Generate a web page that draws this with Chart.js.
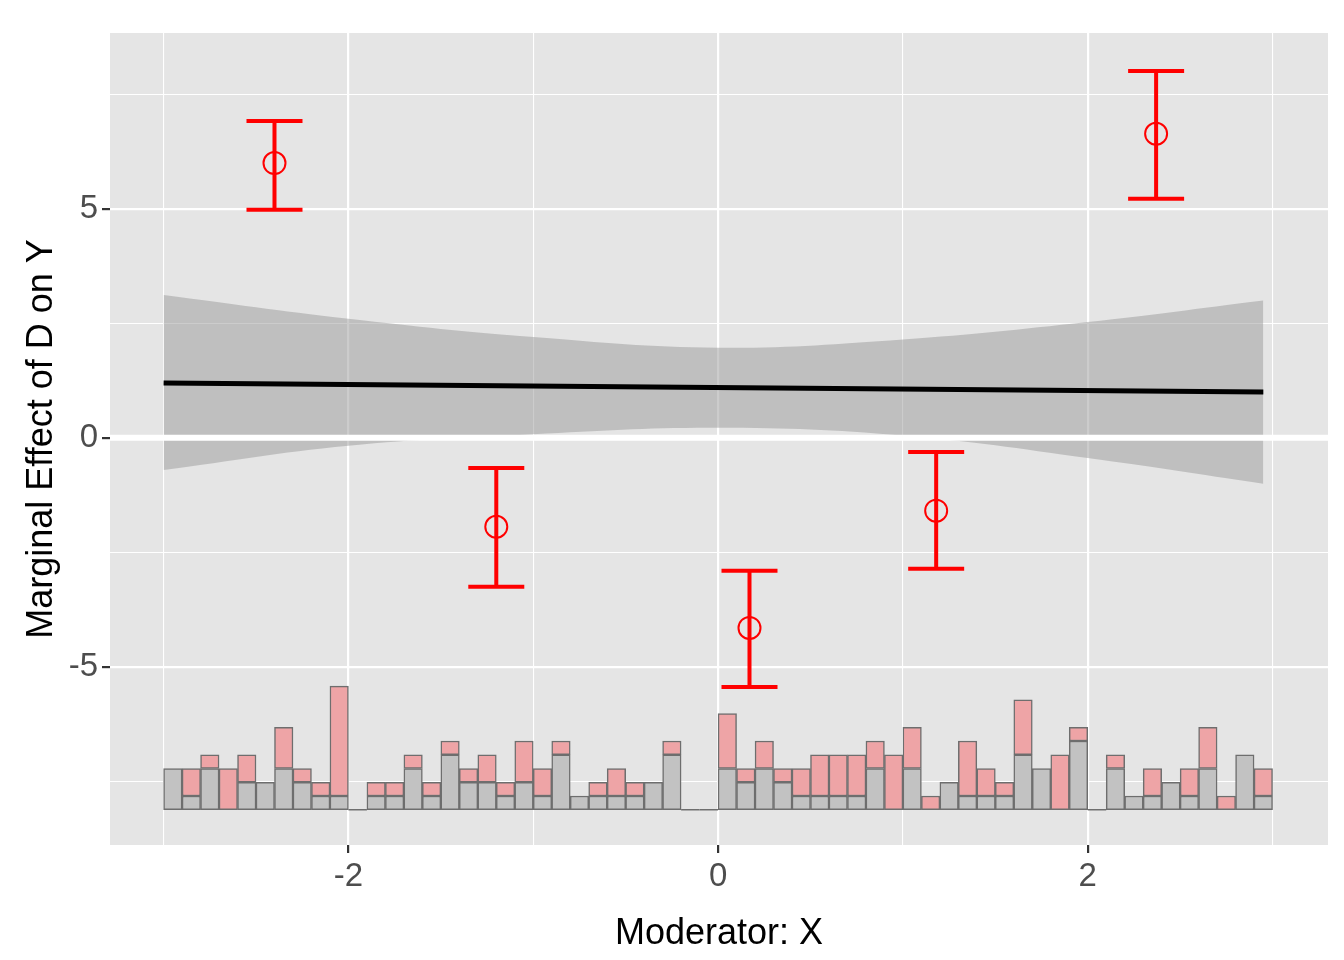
<!DOCTYPE html>
<html>
<head>
<meta charset="utf-8">
<script src="https://cdn.jsdelivr.net/npm/chart.js@4.4.1/dist/chart.umd.min.js"></script>
<style>
  body { margin: 0; background: #fff; }
  #wrap { width: 1344px; height: 960px; }
</style>
</head>
<body>
<div id="wrap"><canvas id="c" width="1344" height="960"></canvas></div>
<script>
// ---- data ----
const lineX = [-3, 2.95];
const lineY = [1.2, 1.0];

const bandX     = [-3, -2, -1, 0, 1, 2, 2.95];
const bandUpper = [3.12, 2.6, 2.2, 1.97, 2.15, 2.53, 3.0];
const bandLower = [-0.7, -0.17, 0.08, 0.22, 0.05, -0.44, -1.0];

const binX  = [-2.4, -1.2, 0.17, 1.18, 2.37];
const binY  = [6.0, -1.94, -4.15, -1.59, 6.64];
const binLo = [4.98, -3.25, -5.44, -2.86, 5.22];
const binHi = [6.92, -0.66, -2.9, -0.31, 8.01];

// histogram: 60 bins of width 0.1 from -3 to 3; counts per bin
const histStart = -3, histWidth = 0.1;
const grayCounts = [3,1,3,0,2,2,3,2,1,1, 0,1,1,3,1,4,2,2,1,2, 1,4,1,1,1,1,2,4,0,0,
                    3,2,3,2,1,1,1,1,3,0, 3,0,2,1,1,1,4,3,0,5, 0,3,1,1,2,1,3,0,4,1];
const pinkCounts = [0,2,1,3,2,0,3,1,1,8, 0,1,1,1,1,1,1,2,1,3, 2,1,0,1,2,1,0,1,0,0,
                    4,1,2,1,2,3,3,3,2,4, 3,1,0,4,2,1,4,0,4,1, 0,1,0,2,0,2,3,1,0,2];
const histBase = -8.12, histUnit = 0.3;

const xTicks = [-3, -2, -1, 0, 1, 2, 3];
const xLabels = [-2, 0, 2];
const yTicks = [-7.5, -5, -2.5, 0, 2.5, 5, 7.5];
const yLabels = [-5, 0, 5];

// ---- build datasets ----
const centers = grayCounts.map((_, i) => +(histStart + histWidth * (i + 0.5)).toFixed(3));
const grayBars = centers.map((x, i) => ({ x, y: [histBase, histBase + grayCounts[i] * histUnit] }));
const pinkBars = centers.map((x, i) => ({
  x, y: [histBase + grayCounts[i] * histUnit, histBase + (grayCounts[i] + pinkCounts[i]) * histUnit]
})).filter((d, i) => pinkCounts[i] > 0);

const pts = (xs, ys) => xs.map((x, i) => ({ x, y: ys[i] }));

// zero line, empty-bin baselines and error bars, drawn with the chart's own scales
const extras = {
  id: 'extras',
  afterDatasetsDraw(chart) {
    const { ctx, scales: { x, y }, chartArea: a } = chart;
    ctx.save();
    ctx.strokeStyle = '#ffffff';
    ctx.lineWidth = 6;
    ctx.beginPath();
    ctx.moveTo(a.left, y.getPixelForValue(0));
    ctx.lineTo(a.right, y.getPixelForValue(0));
    ctx.stroke();

    // baseline under empty bins
    ctx.strokeStyle = '#6e6e6e';
    ctx.lineWidth = 1.5;
    const by = y.getPixelForValue(histBase);
    grayCounts.forEach((g, i) => {
      if (g + pinkCounts[i] > 0) return;
      ctx.beginPath();
      ctx.moveTo(x.getPixelForValue(histStart + histWidth * i), by);
      ctx.lineTo(x.getPixelForValue(histStart + histWidth * (i + 1)), by);
      ctx.stroke();
    });

    ctx.strokeStyle = '#ff0000';
    binX.forEach((bx, i) => {
      const px = x.getPixelForValue(bx);
      const lo = y.getPixelForValue(binLo[i]);
      const hi = y.getPixelForValue(binHi[i]);
      ctx.lineWidth = 4;
      ctx.beginPath();
      ctx.moveTo(px, lo); ctx.lineTo(px, hi);
      ctx.moveTo(px - 28, lo); ctx.lineTo(px + 28, lo);
      ctx.moveTo(px - 28, hi); ctx.lineTo(px + 28, hi);
      ctx.stroke();
      const py = y.getPixelForValue(binY[i]);
      ctx.lineWidth = 2;
      ctx.beginPath();
      ctx.arc(px, py, 11, 0, Math.PI * 2);
      ctx.stroke();
    });
    ctx.restore();
  }
};

const bg = {
  id: 'panelBg',
  beforeDraw(chart) {
    const { ctx, chartArea: a } = chart;
    ctx.save();
    ctx.fillStyle = '#e5e5e5';
    ctx.fillRect(a.left, a.top, a.right - a.left, a.bottom - a.top);
    ctx.restore();
  }
};

new Chart(document.getElementById('c'), {
  data: {
    datasets: [
      {
        type: 'line', data: pts(bandX, bandUpper), borderWidth: 0, pointRadius: 0,
        tension: 0.4, fill: '+1', backgroundColor: 'rgba(153,153,153,0.5)', order: 3
      },
      {
        type: 'line', data: pts(bandX, bandLower), borderWidth: 0, pointRadius: 0,
        tension: 0.4, fill: false, order: 3
      },
      {
        type: 'line', data: pts(lineX, lineY), borderColor: '#000000', borderWidth: 5,
        pointRadius: 0, fill: false, order: 1
      },
      {
        type: 'bar', data: grayBars, backgroundColor: '#c2c2c2', borderColor: '#6e6e6e',
        borderWidth: 1.5, borderSkipped: false, grouped: false,
        barPercentage: 1, categoryPercentage: 1, order: 2
      },
      {
        type: 'bar', data: pinkBars, backgroundColor: '#eea4a6', borderColor: '#6e6e6e',
        borderWidth: 1.5, borderSkipped: false, grouped: false,
        barPercentage: 1, categoryPercentage: 1, order: 2
      }
    ]
  },
  options: {
    responsive: false,
    animation: false,
    layout: { padding: { top: 33, right: 16 } },
    plugins: { legend: { display: false }, tooltip: { enabled: false } },
    scales: {
      x: {
        type: 'linear', min: -3.29, max: 3.3, offset: false,
        afterBuildTicks: s => { s.ticks = xTicks.map(v => ({ value: v })); },
        afterFit: s => { s.height = 115; },
        grid: {
          offset: false, color: '#ffffff', drawTicks: true, tickLength: 8,
          lineWidth: c => (c.tick && xLabels.includes(c.tick.value) ? 2.2 : 1.1),
          tickColor: c => (c.tick && xLabels.includes(c.tick.value) ? '#333333' : 'rgba(0,0,0,0)')
        },
        border: { display: false },
        ticks: {
          color: '#4d4d4d', font: { family: 'Liberation Sans', size: 33 }, padding: 4,
          callback: v => (xLabels.includes(v) ? String(v) : '')
        },
        title: {
          display: true, text: 'Moderator: X', color: '#000000',
          font: { family: 'Liberation Sans', size: 36 }, padding: { top: 14 }
        }
      },
      y: {
        type: 'linear', min: -8.89, max: 8.84,
        afterBuildTicks: s => { s.ticks = yTicks.map(v => ({ value: v })); },
        afterFit: s => { s.width = 110; },
        grid: {
          offset: false, color: '#ffffff', drawTicks: true, tickLength: 8,
          lineWidth: c => (c.tick && yLabels.includes(c.tick.value) ? 2.2 : 1.1),
          tickColor: c => (c.tick && yLabels.includes(c.tick.value) ? '#333333' : 'rgba(0,0,0,0)')
        },
        border: { display: false },
        ticks: {
          color: '#4d4d4d', font: { family: 'Liberation Sans', size: 33 }, padding: 4,
          callback: v => (yLabels.includes(v) ? String(v) : '')
        },
        title: {
          display: true, text: 'Marginal Effect of D on Y', color: '#000000',
          font: { family: 'Liberation Sans', size: 36 }, padding: { top: 20, bottom: 4 }
        }
      }
    }
  },
  plugins: [bg, extras]
});
</script>
</body>
</html>
